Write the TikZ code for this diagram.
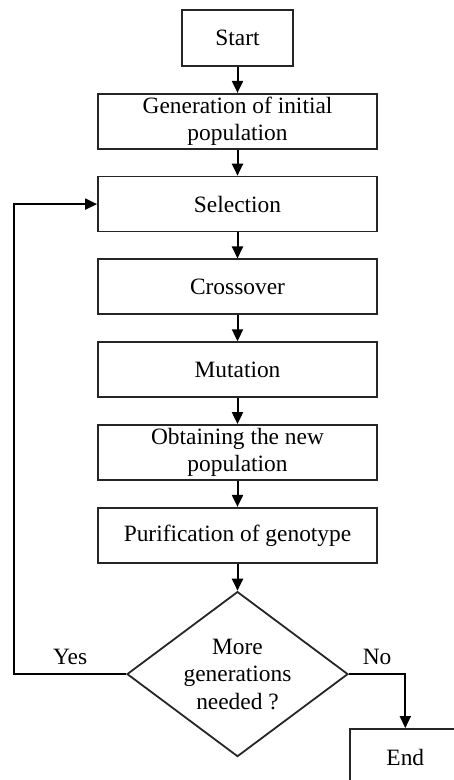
\documentclass[tikz,border=0pt]{standalone}
\usepackage{fontspec}
\setmainfont{Liberation Serif}
\usetikzlibrary{shapes.geometric,positioning,arrows.meta}
\tikzset{
	inicio/.style={rectangle, draw=black!85, line width=0.9pt, 
		font=\fontsize{11.7}{13.3}\selectfont, minimum width=55.5pt, 
		minimum height=28pt, inner sep=0pt, align=center},
	paso/.style={rectangle, draw=black!85, line width=0.9pt, 
		font=\fontsize{11.7}{13.3}\selectfont, minimum width=139.5pt, 
		minimum height=27.5pt, inner sep=0pt, align=center},
	decision/.style={diamond, draw=black!85, line width=0.9pt, 
		font=\fontsize{11.7}{13.75}\selectfont, minimum width=110.5pt, 
		minimum height=82.5pt, inner sep=0pt, aspect=1.34, align=center},
	flecha/.style={line width=1pt, -{Triangle[length=6pt,width=5.5pt]}},
	etiqueta/.style={font=\fontsize{11.7}{13.3}\selectfont, inner sep=1pt}
}
\begin{document}
\begin{tikzpicture}[node distance=13pt]
			\useasboundingbox (-118.75pt,-371pt) rectangle (108.25pt,19pt);
			\node[inicio] (start) at (0,0) {Start};
			
			\node[paso, below=of start] (gen) {Generation of initial\\ population};
			\node[paso, below=of gen] (sel) {Selection};
			\node[paso, below=of sel] (cross) {Crossover};
			\node[paso, below=of cross] (mut) {Mutation};
			\node[paso, below=of mut] (newpop) {Obtaining the new\\ population};
			\node[paso, below=of newpop] (pur) {Purification of genotype};
			
			\node[decision, below=13.5pt of pur] (more) {More\\ generations\\ needed ?};
			\node[inicio, below right=27pt and 0pt of more.east] (end) {End};
			
			\draw[flecha] (start) -- (gen);
			\draw[flecha] (gen) -- (sel);
			\draw[flecha] (sel) -- (cross);
			\draw[flecha] (cross) -- (mut);
			\draw[flecha] (mut) -- (newpop);
			\draw[flecha] (newpop) -- (pur);
			\draw[flecha] (pur) -- (more);
			
			\draw[flecha] (more.west) -- node[etiqueta, above=3pt] {Yes} ++(-56pt,0) |- (sel.west);
			\draw[flecha] (more.east) -- node[etiqueta, above=3pt] {No} (more.east -| end) -- (end);
		\end{tikzpicture}
\end{document}
